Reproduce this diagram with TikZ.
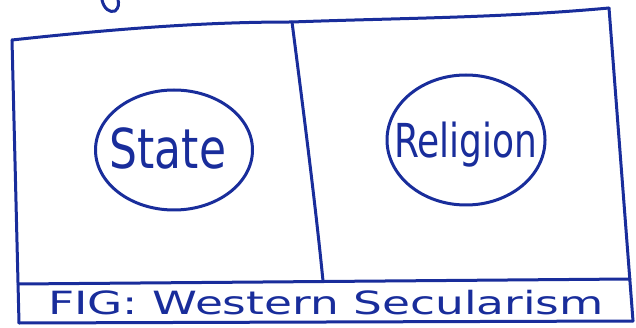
\documentclass[tikz,border=0pt]{standalone}
\usepackage{fontspec}
\setmainfont{DejaVu Sans}
\usetikzlibrary{shapes.geometric}
\definecolor{ink}{RGB}{25,45,155}
\begin{document}
\begin{tikzpicture}[x=1pt,y=-1pt,
  pen/.style={draw=ink,line width=3pt,line cap=round,line join=round},
  bubble/.style={ellipse,pen,inner sep=0pt},
  label/.style={text=ink,inner sep=0pt}]
\useasboundingbox (0,0) rectangle (636,328);
% frame
\coordinate (tl) at (12,40);
\coordinate (tr) at (609,8);
\coordinate (dt) at (292,22);
\coordinate (db) at (323,281);
\coordinate (ml) at (18,284);
\coordinate (mr) at (630,279);
\coordinate (bl) at (19,323);
\coordinate (br) at (633,321);
\draw[pen] (tl) .. controls (150,25) and (230,22) .. (dt) .. controls (400,18) and (500,18) .. (tr);
\draw[pen] (tl) -- (bl);
\draw[pen] (tr) -- (br);
\draw[pen] (dt) .. controls (302,100) and (315,200) .. (db);
\draw[pen] (ml) -- (mr);
\draw[pen] (bl) -- (br);
% fragment at top
\draw[pen] (102,0) .. controls (104,9) and (110,13) .. (115,11) .. controls (119,8) and (119,3) .. (118,0);
% bubbles
\node[bubble,minimum width=157pt,minimum height=120pt] (state) at (174,150) {};
\node[bubble,minimum width=158pt,minimum height=130pt] (religion) at (466,140) {};
\node[label,font=\fontsize{44}{46}\selectfont] (statetxt) at (168,148) {\scalebox{1}[1.25]{State}};
\node[label,font=\fontsize{36}{38}\selectfont] (religiontxt) at (466,145) {\scalebox{1}[1.3]{Religion}};
% caption
\node[label,font=\fontsize{32}{34}\selectfont] (caption) at (326,303) {\scalebox{1.42}[1]{FIG: Western Secularism}};
\end{tikzpicture}
\end{document}
